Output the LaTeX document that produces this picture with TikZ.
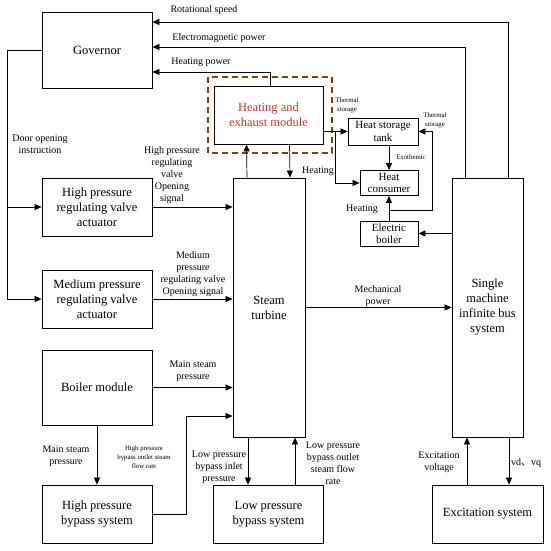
\documentclass[tikz,border=0pt]{standalone}
\usepackage{fontspec}
\setmainfont{Liberation Serif}
\newfontfamily\cjk{Noto Sans CJK SC}
\usepackage{xcolor}
\usepackage{tikz}
\usetikzlibrary{arrows.meta, positioning}
\definecolor{modred}{HTML}{C0392B}
\definecolor{dashbrown}{HTML}{7B3F1E}

\begin{document}
\begin{tikzpicture}[
  x=1pt, y=-1pt,
  box/.style={rectangle, draw, line width=0.8pt, align=center,
              font=\fontsize{12.5}{15}\selectfont},
  smallbox/.style={rectangle, draw, line width=0.8pt, align=center,
              font=\fontsize{11}{12.5}\selectfont, inner sep=1pt},
  lbl/.style={align=center, inner sep=0pt, font=\fontsize{10}{12}\selectfont},
  tiny/.style={align=center, inner sep=0pt, font=\fontsize{6.8}{9}\selectfont},
  arrow/.style={-{Triangle[length=7pt,width=6pt]}, line width=0.7pt}
]
\useasboundingbox (0,0) rectangle (550,551);

% blocks
\node[box, minimum width=110pt, minimum height=76pt] (gov) at (97,50) {Governor};
\node[box, minimum width=110pt, minimum height=58pt] (hpact) at (97,207) {High pressure\\ regulating valve\\ actuator};
\node[box, minimum width=110pt, minimum height=58pt] (mpact) at (97,299) {Medium pressure\\ regulating valve\\ actuator};
\node[box, minimum width=110pt, minimum height=75pt] (boiler) at (97,387.5) {Boiler module};
\node[box, minimum width=110pt, minimum height=58pt] (hpbyp) at (97,514) {High pressure\\ bypass system};
\node[box, minimum width=72pt, minimum height=259pt] (turbine) at (269,307.5) {Steam\\ turbine};
\node[box, minimum width=109pt, minimum height=58pt, text=modred] (heatmod) at (268.5,115) {Heating and\\ exhaust module};
\draw[dashbrown, line width=1.3pt, dash pattern=on 6pt off 4pt] (208,77) rectangle (332,153);
\node[smallbox, minimum width=70pt, minimum height=27pt] (tank) at (383,131.5) {Heat storage\\ tank};
\node[smallbox, minimum width=58pt, minimum height=25pt] (consumer) at (389,183) {Heat\\ consumer};
\node[smallbox, minimum width=58pt, minimum height=25pt] (eboiler) at (389,233.5) {Electric\\ boiler};
\node[box, minimum width=71pt, minimum height=259pt] (smib) at (487.5,307.5) {Single\\ machine\\ infinite bus\\ system};
\node[box, minimum width=110pt, minimum height=58pt] (lpbyp) at (268.5,514) {Low pressure\\ bypass system};
\node[box, minimum width=111pt, minimum height=58pt] (excite) at (487.5,514) {Excitation system};

% turning points
\coordinate (gl) at (7,50);
\coordinate (split) at (335,132);
\coordinate (retx) at (432,210);
\coordinate (bypturn) at (186,416);

% feedback to governor
\draw[arrow] ([xshift=20.5pt]smib.north) |- ([yshift=28pt]gov.east);
\draw[arrow] ([xshift=-22.5pt]smib.north) |- ([yshift=3pt]gov.east);
\draw[arrow] ([xshift=1.5pt]heatmod.north) |- ([yshift=-22pt]gov.east);
\draw[arrow] (gov.west) -- (gl) |- (mpact.west);
\draw[arrow] (gl |- hpact.west) -- (hpact.west);

% into the turbine
\draw[arrow] (hpact.east) -- (hpact.east -| turbine.west);
\draw[arrow] (mpact.east) -- (mpact.east -| turbine.west);
\draw[arrow] (boiler.east) -- (boiler.east -| turbine.west);
\draw[arrow] (hpbyp.east) -| (bypturn) -- (bypturn -| turbine.west);
\draw[arrow] (boiler.south) -- (hpbyp.north);
\draw[arrow] ([xshift=-21pt]turbine.south) -- ([xshift=-21pt]turbine.south |- lpbyp.north);
\draw[arrow] ([xshift=26pt]turbine.south |- lpbyp.north) -- ([xshift=26pt]turbine.south);
\draw[arrow] ([xshift=21pt]heatmod.south) -- ([xshift=21pt]turbine.north);
\draw[arrow] ([xshift=-22pt]turbine.north) -- ([xshift=-22pt]heatmod.south);

% heat side
\draw[arrow] (heatmod.east |- tank.west) -- (tank.west);
\draw[arrow] (split) |- (consumer.west);
\draw[arrow] (tank.south -| consumer.north) -- (consumer.north);
\draw[arrow] (eboiler.north) -- (consumer.south);
\draw[arrow] (eboiler.north |- retx) -- (retx) |- (tank.east);
\draw[arrow] (smib.west |- eboiler.east) -- (eboiler.east);

% grid side
\draw[arrow] (turbine.east) -- (smib.west);
\draw[arrow] ([xshift=-20.5pt]excite.north) -- ([xshift=-20.5pt]smib.south);
\draw[arrow] ([xshift=21.5pt]smib.south) -- ([xshift=21.5pt]excite.north);

% labels
\node[lbl] (lspeed) at (204,10) {Rotational speed};
\node[lbl] (lemag) at (219,38) {Electromagnetic power};
\node[lbl] (lheatp) at (201,62) {Heating power};
\node[lbl] (ldoor) at (40,144) {Door opening\\ instruction};
\node[lbl] (lhpsig) at (172,175) {High pressure\\ regulating\\ valve\\ Opening\\ signal};
\node[lbl] (lmpsig) at (193,274) {Medium\\ pressure\\ regulating valve\\ Opening signal};
\node[lbl] (lmain) at (193,371) {Main steam\\ pressure};
\node[lbl] (lmain2) at (66,456) {Main steam\\ pressure};
\node[tiny] (lhpout) at (144,457) {High pressure\\ bypass outlet steam\\ flow rate};
\node[lbl] (llpin) at (219,467) {Low pressure\\ bypass inlet\\ pressure};
\node[lbl] (llpout) at (333,463) {Low pressure\\ bypass outlet\\ steam flow\\ rate};
\node[lbl] (lexv) at (439,462) {Excitation\\ voltage};
\node[lbl] (lvdq) at (526,463) {vd{\cjk 、}vq};
\node[lbl] (lmech) at (378,296) {Mechanical\\ power};
\node[lbl] (lheat1) at (318,171) {Heating};
\node[lbl] (lheat2) at (362,209) {Heating};
\node[tiny] (lexo) at (411,157) {Exothemic};
\node[tiny] (lts1) at (347,105) {Thermal\\ storage};
\node[tiny] (lts2) at (435,120) {Thermal\\ storage};
\end{tikzpicture}
\end{document}
